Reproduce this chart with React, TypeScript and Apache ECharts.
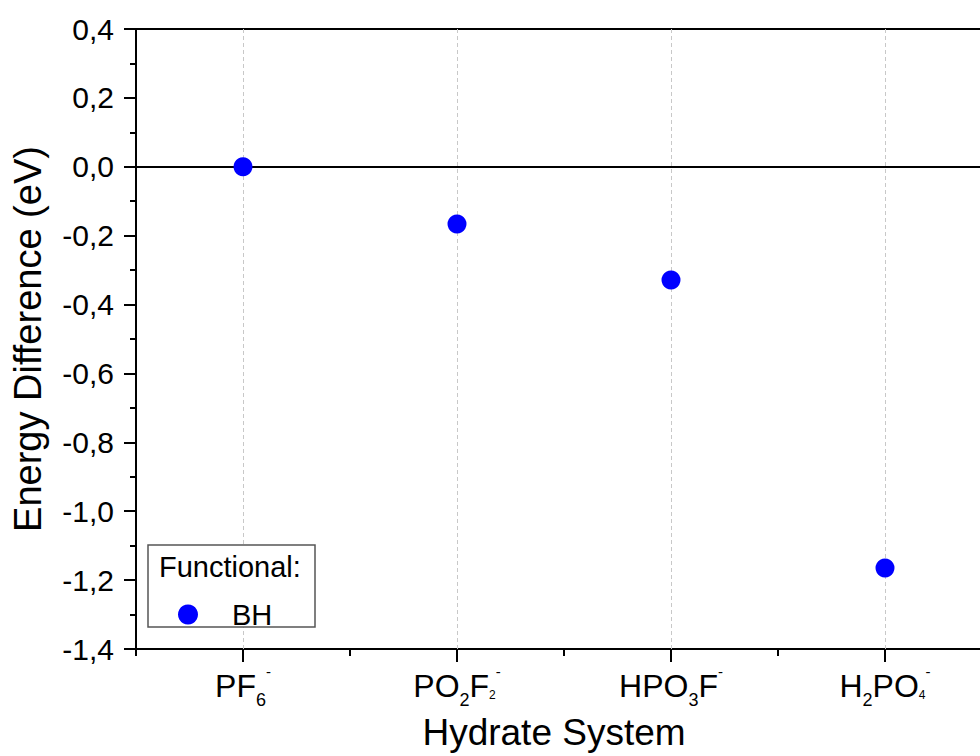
import React, { useEffect, useRef } from "react";
import * as echarts from "echarts";

const categories = ["PF6-", "PO2F2-", "HPO3F-", "H2PO4-"];
const categoryLabels = [
  "{m|PF}{sub|6}{sup|-}",
  "{m|PO}{sub|2}{m|F}{ts|2}{sup|-}",
  "{m|HPO}{sub|3}{m|F}{sup|-}",
  "{m|H}{sub|2}{m|PO}{ts|4}{sup|-}",
];
const bhValues = [0.0, -0.166, -0.329, -1.165];
const seriesName = "BH";
const legendTitle = "Functional:";
const xTitle = "Hydrate System";
const yTitle = "Energy Difference (eV)";
const yMin = -1.4;
const yMax = 0.4;
const yStep = 0.2;

const FONT = "'Liberation Sans', Arial, sans-serif";

export default function App() {
  const ref = useRef<HTMLDivElement>(null);
  useEffect(() => {
    if (!ref.current) return;
    const chart = echarts.init(ref.current, null, { renderer: "svg" });
    const labelMap: Record<string, string> = {};
    categories.forEach((c, i) => (labelMap[c] = categoryLabels[i]));
    chart.setOption({
      animation: false,
      backgroundColor: "#fff",
      textStyle: { fontFamily: FONT },
      grid: {
        left: 136,
        right: -12,
        top: 29,
        bottom: 107,
        containLabel: false,
        outerBoundsMode: "none",
        show: true,
        borderColor: "#000",
        borderWidth: 2,
        backgroundColor: "transparent",
      },
      legend: {
        data: [seriesName],
        left: 173,
        top: 595,
        itemWidth: 20,
        itemHeight: 20,
        icon: "circle",
        z: 20,
        textStyle: {
          fontSize: 29,
          fontFamily: FONT,
          color: "#000",
          padding: [0, 0, 0, 29],
        },
      },
      xAxis: [
        {
          type: "category",
          data: categories,
          boundaryGap: true,
          position: "bottom",
          axisLine: { show: true, onZero: false, lineStyle: { color: "#000", width: 2 } },
          axisTick: { show: true, alignWithLabel: true, length: 13, lineStyle: { color: "#000", width: 2 } },
          splitLine: { show: false },
          axisLabel: {
            interval: 0,
            hideOverlap: false,
            margin: 11,
            formatter: (v: string) => labelMap[v],
            rich: {
              m: { fontSize: 32, lineHeight: 32, padding: [10, 0, 0, 0], verticalAlign: "top", color: "#000", fontFamily: FONT },
              sub: { fontSize: 18, lineHeight: 18, padding: [31, 0, 0, 0], verticalAlign: "top", color: "#000", fontFamily: FONT },
              ts: { fontSize: 12, lineHeight: 12, padding: [29, 0, 0, 0], verticalAlign: "top", color: "#000", fontFamily: FONT },
              sup: { fontSize: 15, lineHeight: 15, padding: [4, 0, 0, 0], verticalAlign: "top", color: "#000", fontFamily: FONT },
            },
          },
          name: xTitle,
          nameLocation: "middle",
          nameGap: 65,
          nameTextStyle: { fontSize: 37, color: "#000", fontFamily: FONT, padding: [0, 20, 0, 0] },
        },
        {
          type: "category",
          data: categories,
          boundaryGap: true,
          position: "bottom",
          axisLine: { show: false, onZero: false },
          axisTick: { show: true, alignWithLabel: false, length: 7, lineStyle: { color: "#000", width: 2 } },
          axisLabel: { show: false },
          splitLine: { show: false },
        },
      ],
      yAxis: {
        type: "value",
        min: yMin,
        max: yMax,
        interval: yStep,
        axisLine: { show: true, onZero: false, lineStyle: { color: "#000", width: 2 } },
        axisTick: { show: true, length: 12, lineStyle: { color: "#000", width: 2 } },
        minorTick: { show: true, splitNumber: 2, length: 6, lineStyle: { color: "#000", width: 2 } },
        splitLine: { show: false },
        axisLabel: {
          margin: 22,
          fontSize: 30,
          color: "#000",
          fontFamily: FONT,
          formatter: (v: number) => v.toFixed(1).replace(".", ",").replace("-0,0", "0,0"),
        },
        name: yTitle,
        nameLocation: "middle",
        nameGap: 89,
        nameTextStyle: { fontSize: 38, color: "#000", fontFamily: FONT },
      },
      graphic: [
        {
          type: "rect",
          z: 10,
          shape: { x: 148, y: 545, width: 167, height: 82 },
          style: { fill: "#fff", stroke: "#555", lineWidth: 1.5 },
        },
        {
          type: "text",
          z: 11,
          x: 159,
          y: 567,
          style: {
            text: legendTitle,
            font: `29px ${FONT}`,
            fill: "#000",
            verticalAlign: "middle",
            textVerticalAlign: "middle",
          },
        },
      ],
      series: [
        {
          name: seriesName,
          type: "scatter",
          xAxisIndex: 0,
          data: bhValues.map((v, i) => [categories[i], v]),
          symbol: "circle",
          symbolSize: 19,
          itemStyle: { color: "#0000FF", opacity: 1 },
          z: 6,
          markLine: {
            silent: true,
            symbol: "none",
            label: { show: false },
            animation: false,
            z: 3,
            data: [
              ...categories.map((c) => ({
                xAxis: c,
                lineStyle: { color: "#c8c8c8", width: 1, type: [4, 3] },
              })),
              { yAxis: 0, lineStyle: { color: "#000", width: 2, type: "solid" } },
            ],
          },
        },
      ],
    });
    return () => chart.dispose();
  }, []);
  return (
    <div
      ref={ref}
      style={{ position: "fixed", left: 0, top: 0, width: 980, height: 756 }}
    />
  );
}
